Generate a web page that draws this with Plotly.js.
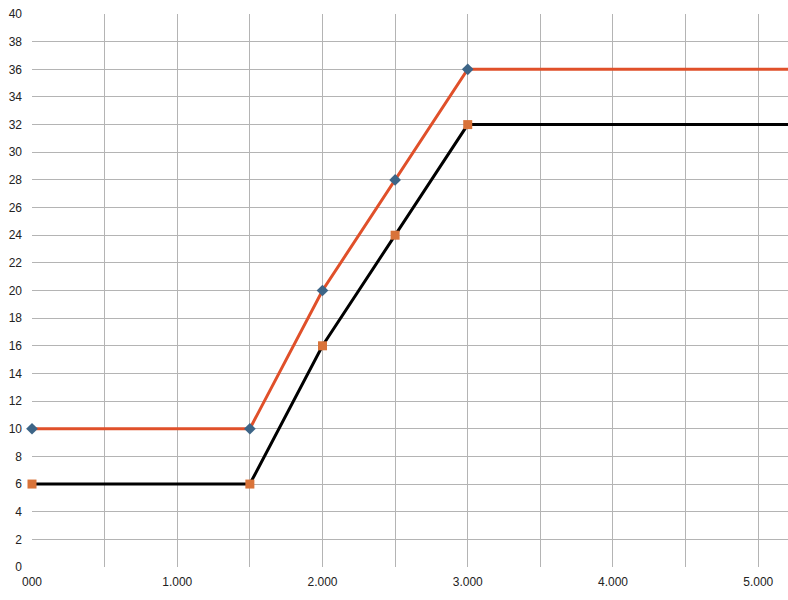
<!DOCTYPE html>
<html>
<head>
<meta charset="utf-8">
<script src="https://cdn.plot.ly/plotly-3.0.1.min.js"></script>
<style>html,body{margin:0;padding:0;background:#fff;}#chart{width:788px;height:600px;}</style>
</head>
<body>
<div id="chart"></div>
<script>
// Data
var xPoints = [0, 1500, 2000, 2500, 3000];
var upperY = [10, 10, 20, 28, 36];
var lowerY = [6, 6, 16, 24, 32];
var lineEndX = 5300;           // lines continue flat beyond the last point
var xTickVals = [0, 500, 1000, 1500, 2000, 2500, 3000, 3500, 4000, 4500, 5000];
var xTickText = ['000', '', '1.000', '', '2.000', '', '3.000', '', '4.000', '', '5.000'];
var yTickVals = [0,2,4,6,8,10,12,14,16,18,20,22,24,26,28,30,32,34,36,38,40];

var upperLineX = xPoints.concat([lineEndX]);
var upperLineY = upperY.concat([upperY[upperY.length - 1]]);
var lowerLineX = xPoints.concat([lineEndX]);
var lowerLineY = lowerY.concat([lowerY[lowerY.length - 1]]);

var traces = [
  {x: lowerLineX, y: lowerLineY, mode: 'lines', line: {color: '#000000', width: 3}, hoverinfo: 'skip', showlegend: false},
  {x: upperLineX, y: upperLineY, mode: 'lines', line: {color: '#e0502a', width: 3}, hoverinfo: 'skip', showlegend: false},
  {x: xPoints, y: upperY, mode: 'markers', marker: {symbol: 'diamond', size: 9, color: '#3d6587'}, showlegend: false, cliponaxis: false},
  {x: xPoints, y: lowerY, mode: 'markers', marker: {symbol: 'square', size: 9, color: '#d97339'}, showlegend: false, cliponaxis: false}
];

var layout = {
  width: 788, height: 600,
  margin: {l: 32, r: 0, t: 14, b: 33, pad: 0},
  paper_bgcolor: '#ffffff', plot_bgcolor: '#ffffff',
  font: {family: 'Liberation Sans, Arial, sans-serif', size: 12, color: '#222222'},
  showlegend: false,
  xaxis: {
    range: [0, 5205], tickmode: 'array', tickvals: xTickVals, ticktext: xTickText,
    showgrid: true, gridcolor: '#b4b4b4', gridwidth: 1, zeroline: false, showline: false,
    ticks: '', ticklabelstandoff: 6, fixedrange: true
  },
  yaxis: {
    range: [0, 40], tickmode: 'array', tickvals: yTickVals,
    showgrid: true, gridcolor: '#b4b4b4', gridwidth: 1, zeroline: false, showline: false,
    ticks: '', ticklabelstandoff: 9, fixedrange: true
  }
};

Plotly.newPlot('chart', traces, layout, {displayModeBar: false, staticPlot: true});
</script>
</body>
</html>
